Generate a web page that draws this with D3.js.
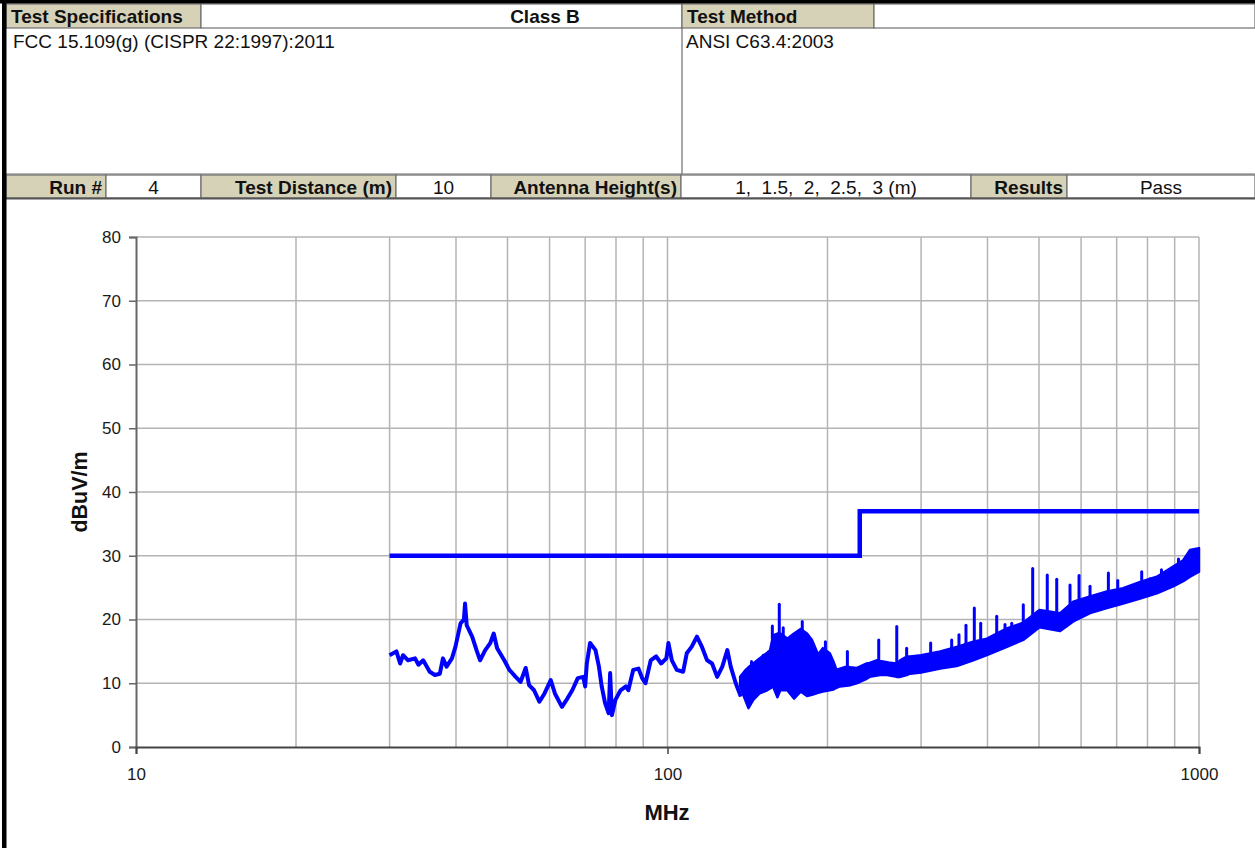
<!DOCTYPE html>
<html>
<head>
<meta charset="utf-8">
<script src="https://cdn.jsdelivr.net/npm/d3@7"></script>
<style>
  body { margin: 0; background: #fff; }
  text { font-family: "Liberation Sans", Arial, sans-serif; white-space: pre; }
</style>
</head>
<body>
<script>
// Header texts
var headerRow1 = ["Test Specifications", "Class B", "Test Method", ""];
var headerRow2 = ["FCC 15.109(g) (CISPR 22:1997):2011", "ANSI C63.4:2003"];
var headerRow3 = ["Run #", "4", "Test Distance (m)", "10", "Antenna Height(s)", "1,  1.5,  2,  2.5,  3 (m)", "Results", "Pass"];

// Axis ticks
var yTicks = [0, 10, 20, 30, 40, 50, 60, 70, 80];
var xLabelTicks = [10, 100, 1000];

// Limit line (Class B, 10 m)
var limitFreq = [30, 230, 230, 1000];
var limitLevel = [30, 30, 37, 37];

// Emission trace, 30 - 137 MHz
var traceFreq = [30, 30.9, 31.4, 31.8, 32.5, 33.5, 34.0, 34.7, 35.7, 36.5, 37.3, 37.8, 38.4, 39.3, 39.9, 40.8, 41.4, 41.6, 41.9, 42.9,
  43.8, 44.4, 45.4, 46.4, 47.1, 47.8, 49.3, 50.4, 51.8, 52.9, 54.1, 54.9, 56.1, 57.4, 58.7, 60.3, 61.4, 63.3, 64.8, 66.2,
  67.8, 69.4, 70.0, 70.5, 71.5, 73.2, 74.3, 75.2, 76.3, 77.5, 78.0, 78.6, 79.8, 81.6, 83.5, 84.4, 86.2, 88.2, 89.6, 90.9,
  93.0, 95.2, 97.3, 99.5, 100.4, 101.9, 104.1, 107.0, 108.7, 111.0, 113.6, 116.1, 118.7, 121.3, 124.0, 126.8, 129.6, 131.5, 134.4, 137.4];
var traceLevel = [14.4, 15.0, 13.1, 14.4, 13.6, 13.9, 12.9, 13.6, 11.8, 11.3, 11.5, 13.9, 12.6, 13.9, 15.7, 19.4, 20.0, 22.5, 19.1, 17.3,
  15.0, 13.6, 15.2, 16.3, 17.8, 15.5, 13.6, 12.1, 11.0, 10.2, 12.4, 9.7, 8.9, 7.1, 8.4, 10.5, 8.4, 6.3, 7.6, 8.9,
  10.8, 11.0, 9.5, 13.1, 16.3, 15.2, 12.6, 9.5, 6.9, 5.3, 11.6, 5.0, 7.4, 8.9, 9.5, 8.9, 12.1, 12.3, 10.8, 10.0,
  13.6, 14.2, 13.1, 13.9, 16.3, 13.6, 12.1, 11.8, 14.7, 15.7, 17.3, 15.7, 13.6, 13.1, 11.0, 12.6, 15.2, 12.6, 10.0, 7.9];

// Emission noise band, 137 - 1000 MHz (lower / upper edge)
var bandFreq = [137, 140, 142, 145, 149, 154, 156, 158, 161, 163, 168, 173, 178, 183, 187, 192, 196, 202, 205, 208,
  211, 217, 221, 227, 230, 237, 240, 248, 251, 259, 262, 270, 274, 282, 286, 300, 326, 350, 376, 399,
  435, 467, 501, 548, 580, 624, 671, 720, 775, 833, 894, 934, 962, 1000];
var bandLow = [9.5, 7.4, 6.1, 7.4, 8.4, 8.9, 9.2, 9.5, 7.8, 8.9, 8.9, 7.6, 8.7, 8.0, 8.2, 8.5, 8.7, 8.9, 9.0, 9.3,
  9.5, 9.6, 9.7, 10.0, 10.2, 10.7, 11.0, 11.2, 11.3, 11.3, 11.2, 11.0, 11.0, 11.3, 11.5, 11.7, 12.3, 12.7, 13.6, 14.4,
  15.7, 16.8, 18.8, 18.2, 19.7, 21.0, 21.8, 22.5, 23.3, 24.1, 25.2, 26.0, 26.7, 27.5];
var bandHigh = [11.0, 12.0, 12.5, 13.1, 13.9, 14.8, 15.2, 17.5, 17.8, 17.8, 17.0, 17.8, 18.5, 17.8, 16.8, 14.5, 15.5, 14.7, 13.5, 12.1,
  12.3, 12.6, 12.5, 12.4, 12.6, 13.1, 13.2, 13.6, 13.5, 13.3, 13.2, 13.1, 13.6, 14.2, 14.2, 14.4, 15.0, 15.7, 16.5, 17.0,
  18.6, 19.5, 21.5, 21.0, 22.8, 23.6, 24.4, 24.9, 25.9, 26.7, 28.3, 29.3, 30.9, 31.2];

// Narrow spikes on top of the band
var spikeFreq = [143.9, 151.4, 157.5, 162.3, 165.1, 179.3, 198.2, 218, 249.7, 270, 281.8, 312.7, 342.5, 353.5, 364.4, 377.8,
  388.4, 416.3, 431.5, 444.3, 467.1, 486.5, 518.2, 539.9, 571.9, 594.7, 623.7, 675.3, 703.3, 780.2, 808.7, 850, 915];
var spikeLevel = [13.4, 14.4, 19.0, 22.4, 18.7, 19.7, 16.5, 15.0, 16.8, 18.9, 15.5, 16.3, 16.8, 17.6, 19.1, 21.8,
  19.4, 20.5, 19.2, 19.4, 22.3, 28.0, 27.0, 26.3, 25.4, 26.9, 25.2, 27.3, 26.1, 27.5, 26.4, 27.8, 29.5];

var W = 1255, H = 848;
var tan = "#d6d2b8", blue = "#0000ff", cellLine = "#6e6e6e";
var hdrFont = 19;

var svg = d3.select("body").append("svg")
  .attr("width", W)
  .attr("height", H);

svg.append("rect").attr("width", W).attr("height", H).attr("fill", "#fff");

// ---- header table ----
var hdr = svg.append("g");

// row 1
var row1Edges = [6, 201, 682, 874, W];
var row1Tan = [true, false, true, false];
for (var i = 0; i < headerRow1.length; i++) {
  hdr.append("rect")
    .attr("x", row1Edges[i]).attr("y", 4)
    .attr("width", row1Edges[i + 1] - row1Edges[i]).attr("height", 24)
    .attr("fill", row1Tan[i] ? tan : "#fff")
    .attr("stroke", cellLine).attr("stroke-width", 1.2);
  hdr.append("text")
    .attr("x", i == 1 ? 545 : row1Edges[i] + 5)
    .attr("y", 23)
    .attr("text-anchor", i == 1 ? "middle" : "start")
    .attr("font-size", hdrFont).attr("font-weight", "bold").attr("fill", "#111")
    .text(headerRow1[i]);
}

// row 2 (text block)
hdr.append("line").attr("x1", 682).attr("x2", 682).attr("y1", 28).attr("y2", 174)
  .attr("stroke", cellLine).attr("stroke-width", 1.2);
hdr.append("line").attr("x1", 6).attr("x2", W).attr("y1", 174).attr("y2", 174)
  .attr("stroke", cellLine).attr("stroke-width", 1.2);
hdr.append("text").attr("x", 13).attr("y", 48).attr("font-size", hdrFont).attr("fill", "#111").text(headerRow2[0]);
hdr.append("text").attr("x", 686).attr("y", 48).attr("font-size", hdrFont).attr("fill", "#111").text(headerRow2[1]);

// row 3
var row3Edges = [6, 106, 201, 396, 491, 681, 971, 1067, W];
for (var j = 0; j < headerRow3.length; j++) {
  var isLabel = j % 2 == 0;
  hdr.append("rect")
    .attr("x", row3Edges[j]).attr("y", 175)
    .attr("width", row3Edges[j + 1] - row3Edges[j]).attr("height", 23)
    .attr("fill", isLabel ? tan : "#fff")
    .attr("stroke", cellLine).attr("stroke-width", 1.2);
  hdr.append("text")
    .attr("x", isLabel ? row3Edges[j + 1] - 4 : (row3Edges[j] + row3Edges[j + 1]) / 2)
    .attr("y", 193.5)
    .attr("text-anchor", isLabel ? "end" : "middle")
    .attr("font-size", hdrFont).attr("font-weight", isLabel ? "bold" : "normal").attr("fill", "#111")
    .text(headerRow3[j]);
}
hdr.append("line").attr("x1", 6).attr("x2", W).attr("y1", 198.5).attr("y2", 198.5)
  .attr("stroke", "#555").attr("stroke-width", 2);

// outer frame: top and left heavy lines
svg.append("rect").attr("x", 0).attr("y", 0).attr("width", W).attr("height", 3.5).attr("fill", "#000");
svg.append("rect").attr("x", 2).attr("y", 0).attr("width", 4.5).attr("height", H).attr("fill", "#000");

// ---- chart ----
var x = d3.scaleLog().domain([10, 1000]).range([136, 1199]);
var y = d3.scaleLinear().domain([0, 80]).range([747, 237]);

var grid = svg.append("g").attr("stroke", "#b4b4b4").attr("stroke-width", 1.5);
grid.selectAll(".vg").data(x.ticks().filter(function(d) { return d > 10; }))
  .enter().append("line")
  .attr("x1", function(d) { return x(d); }).attr("x2", function(d) { return x(d); })
  .attr("y1", y(80)).attr("y2", y(0));
grid.selectAll(".hg").data(yTicks.filter(function(d) { return d > 0; }))
  .enter().append("line")
  .attr("x1", x(10)).attr("x2", x(1000))
  .attr("y1", function(d) { return y(d); }).attr("y2", function(d) { return y(d); });

// y axis
var yAxis = d3.axisLeft(y).tickValues(yTicks).tickSize(7).tickPadding(8);
var gy = svg.append("g").attr("transform", "translate(" + x(10) + ",0)").call(yAxis);
gy.select(".domain").attr("stroke", "#666").attr("stroke-width", 2);
gy.selectAll(".tick line").attr("stroke", "#666").attr("stroke-width", 1.5);
gy.selectAll(".tick text").attr("font-size", 17).attr("fill", "#1a1a1a")
  .attr("font-family", "Liberation Sans, Arial, sans-serif");

// x axis
var xAxis = d3.axisBottom(x).tickValues(xLabelTicks).tickFormat(d3.format("d")).tickSize(7).tickPadding(14);
var gx = svg.append("g").attr("transform", "translate(0," + y(0) + ")").call(xAxis);
gx.select(".domain").attr("stroke", "#444").attr("stroke-width", 2);
gx.selectAll(".tick line").attr("stroke", "#444").attr("stroke-width", 1.5);
gx.selectAll(".tick text").attr("font-size", 17).attr("fill", "#1a1a1a")
  .attr("font-family", "Liberation Sans, Arial, sans-serif");

// axis titles
svg.append("text").attr("x", 667).attr("y", 820).attr("text-anchor", "middle")
  .attr("font-size", 22).attr("font-weight", "bold").attr("fill", "#111").text("MHz");
svg.append("text").attr("transform", "translate(87,492) rotate(-90)").attr("text-anchor", "middle")
  .attr("font-size", 21.5).attr("font-weight", "bold").attr("fill", "#111").text("dBuV/m");

// emission band
var band = bandFreq.map(function(f, k) { return { f: f, lo: bandLow[k], hi: bandHigh[k] }; });
var area = d3.area()
  .x(function(d) { return x(d.f); })
  .y0(function(d) { return y(d.lo); })
  .y1(function(d) { return y(d.hi); });
svg.append("path").datum(band).attr("d", area)
  .attr("fill", blue).attr("stroke", blue).attr("stroke-width", 2.5).attr("stroke-linejoin", "round");

// spikes
var bis = d3.bisector(function(d) { return d.f; }).left;
function bandHiAt(f) {
  var k = Math.max(1, bis(band, f));
  var a = band[k - 1], b = band[k];
  var t = (Math.log(f) - Math.log(a.f)) / (Math.log(b.f) - Math.log(a.f));
  return a.hi + (b.hi - a.hi) * t;
}
svg.append("g").selectAll("line").data(spikeFreq).enter().append("line")
  .attr("x1", function(d) { return x(d); }).attr("x2", function(d) { return x(d); })
  .attr("y1", function(d) { return y(bandHiAt(d)); })
  .attr("y2", function(d, k) { return y(spikeLevel[k]); })
  .attr("stroke", blue).attr("stroke-width", 3).attr("stroke-linecap", "round");

// emission trace
var trace = traceFreq.map(function(f, k) { return { f: f, v: traceLevel[k] }; });
svg.append("path").datum(trace)
  .attr("d", d3.line().x(function(d) { return x(d.f); }).y(function(d) { return y(d.v); }))
  .attr("fill", "none").attr("stroke", blue).attr("stroke-width", 4).attr("stroke-linejoin", "round");

// limit line
var limit = limitFreq.map(function(f, k) { return { f: f, v: limitLevel[k] }; });
svg.append("path").datum(limit)
  .attr("d", d3.line().x(function(d) { return x(d.f); }).y(function(d) { return y(d.v); }))
  .attr("fill", "none").attr("stroke", blue).attr("stroke-width", 4.5);
</script>
</body>
</html>
